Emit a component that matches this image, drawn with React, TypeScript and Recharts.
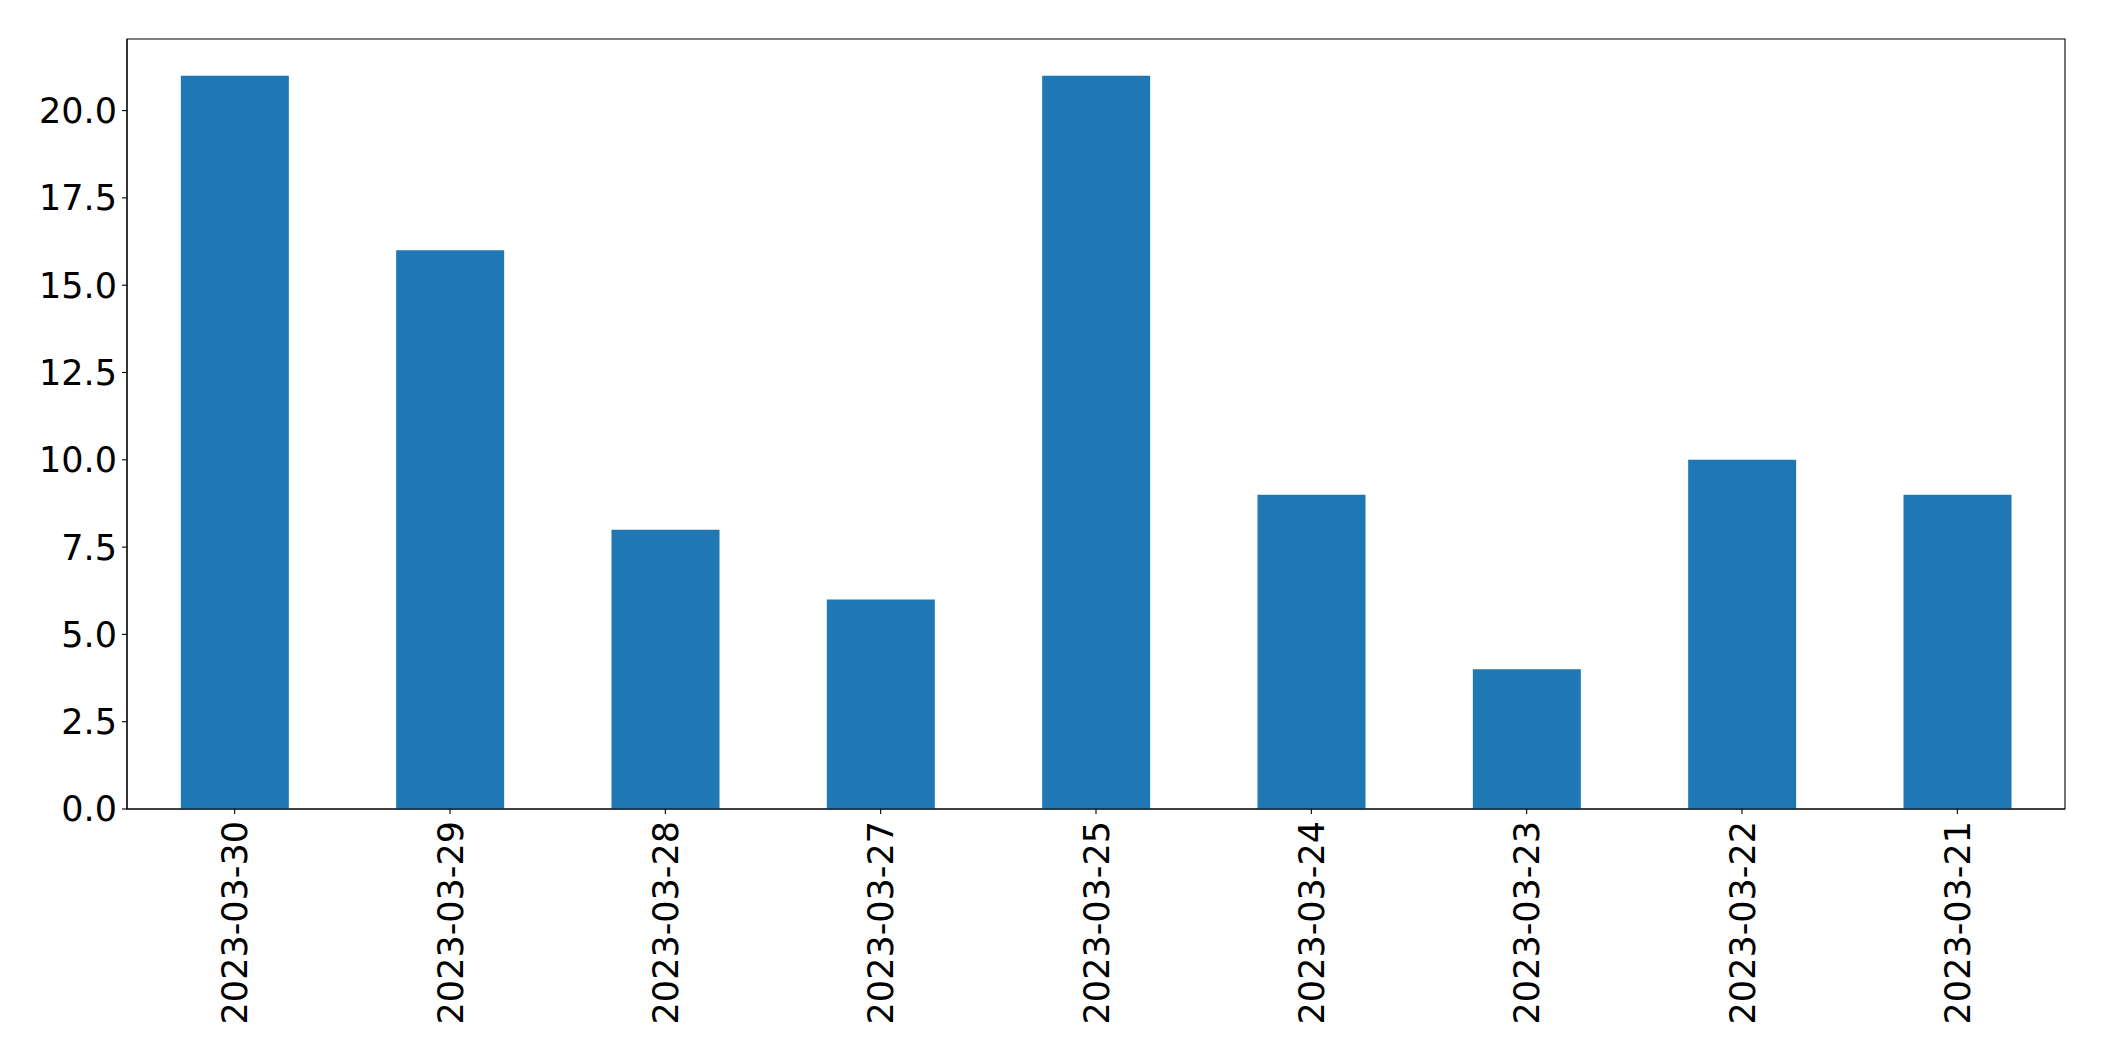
import React from 'react';
import { BarChart, Bar, XAxis, YAxis, ReferenceArea } from 'recharts';

const dates = [
  '2023-03-30',
  '2023-03-29',
  '2023-03-28',
  '2023-03-27',
  '2023-03-25',
  '2023-03-24',
  '2023-03-23',
  '2023-03-22',
  '2023-03-21',
];
const counts = [21, 16, 8, 6, 21, 9, 4, 10, 9];
const yTicks = [0, 2.5, 5, 7.5, 10, 12.5, 15, 17.5, 20];
const yMax = 22.05;

const data = dates.map((d, i) => ({ date: d, count: counts[i] }));

const FONT = 'DejaVu Sans, sans-serif';

const DateTick = (props: any) => {
  const { x, y, payload } = props;
  return (
    <g transform={`translate(${x},${y})`}>
      <text
        transform="rotate(-90)"
        x={-7}
        y={0}
        dy="0.36em"
        textAnchor="end"
        fontSize={35}
        fontFamily={FONT}
        fill="#000"
      >
        {payload.value}
      </text>
    </g>
  );
};

export default function App() {
  return (
    <div style={{ position: 'absolute', left: 0, top: 0, background: '#fff' }}>
      <BarChart
        width={2104}
        height={1061}
        data={data}
        margin={{ top: 39, right: 39, bottom: 0, left: 0 }}
        barCategoryGap="25%"
      >
        <XAxis
          dataKey="date"
          height={252}
          interval={0}
          tick={<DateTick />}
          tickSize={5}
          tickMargin={0}
          axisLine={{ stroke: '#000', strokeWidth: 1.1 }}
          tickLine={{ stroke: '#000', strokeWidth: 1.1 }}
        />
        <YAxis
          width={127}
          domain={[0, yMax]}
          ticks={yTicks}
          interval={0}
          allowDataOverflow
          tickFormatter={(v: number) => v.toFixed(1)}
          tick={{ fontSize: 35, fontFamily: FONT, fill: '#000' }}
          tickSize={5}
          tickMargin={5}
          axisLine={{ stroke: '#000', strokeWidth: 1.1 }}
          tickLine={{ stroke: '#000', strokeWidth: 1.1 }}
        />
        <Bar dataKey="count" fill="#1f77b4" isAnimationActive={false} />
        <ReferenceArea
          y1={0}
          y2={yMax}
          fill="none"
          stroke="#000"
          strokeWidth={1.1}
          fillOpacity={0}
        />
      </BarChart>
    </div>
  );
}
